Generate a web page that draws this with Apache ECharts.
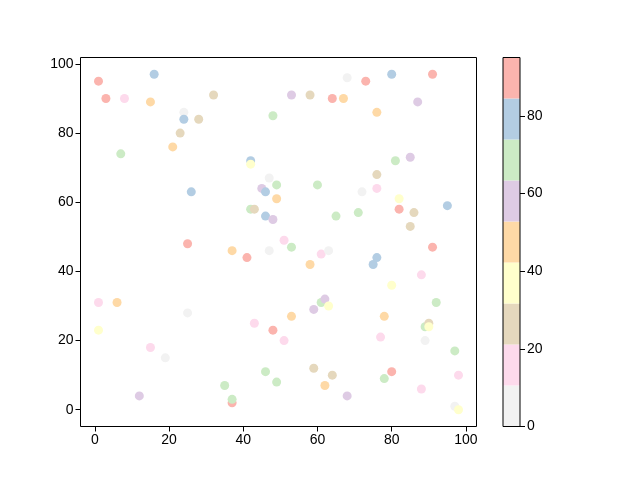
<!DOCTYPE html>
<html><head><meta charset="utf-8">
<script src="https://cdn.jsdelivr.net/npm/echarts@6/dist/echarts.min.js"></script>
<style>html,body{margin:0;padding:0;background:#fff}#c{width:640px;height:480px}</style>
</head><body><div id="c"></div>
<script>
const xs = [1,16,3,8,15,32,24,24,28,23,21,7,48,42,42,47,49,45,46,49,26,42,43,46,48,25,51,68,73,80,91,53,58,64,67,87,76,81,85,76,60,76,72,82,82,86,95,85,71,65,53,91,37,41,47,1,6,25,1,43,48,51,15,19,46,49,35,12,37,37,61,63,58,76,75,88,80,92,61,62,63,59,53,78,89,90,90,77,89,97,59,64,62,68,80,78,98,88,97,98];
const ys = [95,97,90,90,89,91,86,84,84,80,76,74,85,72,71,67,65,64,63,61,63,58,58,56,55,48,49,96,95,97,97,91,91,90,90,89,86,72,73,68,65,64,63,61,58,57,59,53,57,56,47,47,46,44,46,31,31,28,23,25,23,20,18,15,11,8,7,4,2,3,45,46,42,44,42,39,36,31,31,32,30,29,27,27,24,25,24,21,20,17,12,10,7,4,11,9,10,6,1,0];
const cs = [90,79,90,16,48,26,5,79,26,26,48,69,69,79,37,5,69,58,79,48,79,69,26,79,58,90,16,5,90,79,90,58,26,90,48,58,48,69,58,26,69,16,5,37,90,26,79,26,69,69,69,90,48,90,5,16,48,5,37,16,90,16,16,5,69,69,69,58,90,69,16,5,48,79,79,16,37,69,69,58,37,58,48,48,69,26,37,16,5,69,26,26,48,58,90,69,16,16,5,37];
const cMin = 0, cMax = 95;
const binColors = ['#f2f2f2','#fddaec','#e5d8bd','#ffffcc','#fed9a6','#decbe4','#ccebc5','#b3cde3','#fbb4ae'];
const xTicks = [0,20,40,60,80,100];
const yTicks = [0,20,40,60,80,100];
const cTicks = [0,20,40,60,80];

const binW = (cMax - cMin) / binColors.length;
const pieces = binColors.map((col, i) => ({gte: cMin + i*binW, lt: cMin + (i+1)*binW + (i===binColors.length-1?1:0), color: col}));
const pts = xs.map((x,i)=>[x, ys[i], cs[i]]);
const font = {fontFamily:'Liberation Sans', fontSize:14, color:'#000'};
const tickStyle = {lineStyle:{color:'#000',width:1}, length:5};

const series = [{
  type:'scatter', xAxisIndex:0, yAxisIndex:0, data:pts, symbolSize:9,
  itemStyle:{opacity:1}, emphasis:{disabled:true}, animation:false
}];
binColors.forEach((col,i)=>{
  series.push({type:'bar', xAxisIndex:1, yAxisIndex:1, stack:'cb', data:[binW],
    barWidth:'100%', itemStyle:{color:col}, silent:true, animation:false});
});

const chart = echarts.init(document.getElementById('c'), null, {renderer:'canvas'});
chart.setOption({
  animation:false,
  grid:[
    {left:80.5, top:57.5, width:396, height:369, show:true, borderColor:'#000', borderWidth:1, backgroundColor:'transparent'},
    {left:503, top:57.5, width:17, height:369, show:true, borderColor:'#000', borderWidth:1, backgroundColor:'transparent', z:5}
  ],
  visualMap:{type:'piecewise', show:false, seriesIndex:0, dimension:2, pieces:pieces},
  xAxis:[
    {type:'value', gridIndex:0, min:-3.85, max:102.85, splitLine:{show:false},
     axisLine:{show:false, onZero:false}, axisTick:{show:true, customValues:xTicks, ...tickStyle},
     axisLabel:{customValues:xTicks, margin:7, ...font}},
    {type:'category', gridIndex:1, data:['c'], show:false}
  ],
  yAxis:[
    {type:'value', gridIndex:0, min:-4.85, max:101.85, splitLine:{show:false},
     axisLine:{show:false, onZero:false}, axisTick:{show:true, customValues:yTicks, ...tickStyle},
     axisLabel:{customValues:yTicks, margin:7, ...font}},
    {type:'value', gridIndex:1, min:cMin, max:cMax, position:'right', splitLine:{show:false},
     axisLine:{show:false, onZero:false}, axisTick:{show:true, customValues:cTicks, ...tickStyle},
     axisLabel:{customValues:cTicks, margin:7, ...font}}
  ],
  series:series
});
</script></body></html>
